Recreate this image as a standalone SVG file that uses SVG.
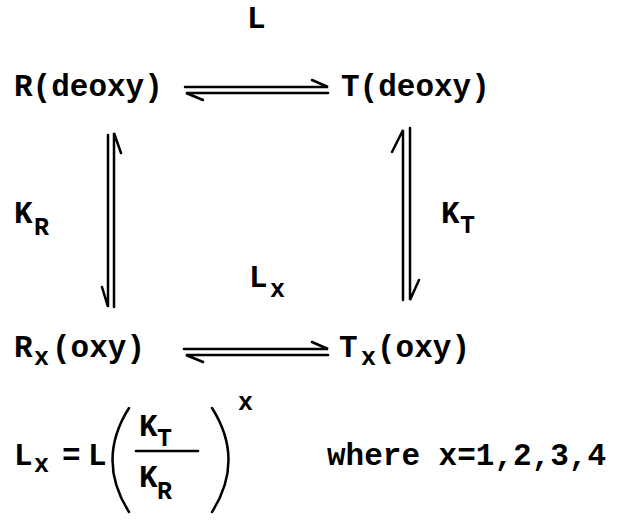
<svg xmlns="http://www.w3.org/2000/svg" width="619" height="520" viewBox="0 0 619 520">
<style>
text{font-family:"Liberation Mono","DejaVu Sans Mono",monospace;font-weight:bold;fill:#000}
.m{font-size:31px}
.s{font-size:25px}
.ln{stroke:#000;stroke-width:2.5;fill:none;stroke-linecap:round}
</style>
<rect width="619" height="520" fill="#fff"/>
<g id="label-L"><text class="m" x="247" y="28">L</text></g>
<g id="node-R-deoxy"><text class="m" x="14" y="96">R(deoxy)</text></g>
<g id="node-T-deoxy"><text class="m" x="341" y="96">T(deoxy)</text></g>
<g id="label-KR"><text class="m" x="14" y="223">K</text><text class="s" x="34" y="235">R</text></g>
<g id="label-KT"><text class="m" x="441" y="223">K</text><text class="s" x="460" y="233">T</text></g>
<g id="label-Lx"><text class="m" x="249" y="287">L</text><text class="s" x="270" y="297">x</text></g>
<g id="node-Rx-oxy"><text class="m" x="14" y="357">R</text><text class="s" x="34" y="365">x</text><text class="m" x="52" y="357">(oxy)</text></g>
<g id="node-Tx-oxy"><text class="m" x="339" y="357">T</text><text class="s" x="361" y="365">x</text><text class="m" x="377" y="357">(oxy)</text></g>
<g id="connectors">
<path class="ln" d="M185,87H328L312,80"/>
<path class="ln" d="M328,93H186L203,100"/>
<path class="ln" d="M114,307V133L121,153"/>
<path class="ln" d="M108,135V307L102,287"/>
<path class="ln" d="M403,300V130L392,152"/>
<path class="ln" d="M410,128V300L419,280"/>
<path class="ln" d="M184,349H328L312,342"/>
<path class="ln" d="M328,355H186L203,362"/>
</g>
<g id="formula">
<text class="m" x="14" y="465">L</text><text class="s" x="34" y="472">x</text>
<text class="m" x="62" y="465">=</text>
<text class="m" x="88" y="465">L</text>
<path class="ln" d="M129,408Q96,460 129,512"/>
<text class="m" x="139" y="436">K</text><text class="s" x="157" y="446">T</text>
<path class="ln" d="M136,451H198"/>
<text class="m" x="139" y="487">K</text><text class="s" x="157" y="499">R</text>
<path class="ln" d="M212,408Q245,460 212,512"/>
<text class="s" x="238" y="410">x</text>
<text class="m" x="327" y="465">where x=1,2,3,4</text>
</g>
</svg>
